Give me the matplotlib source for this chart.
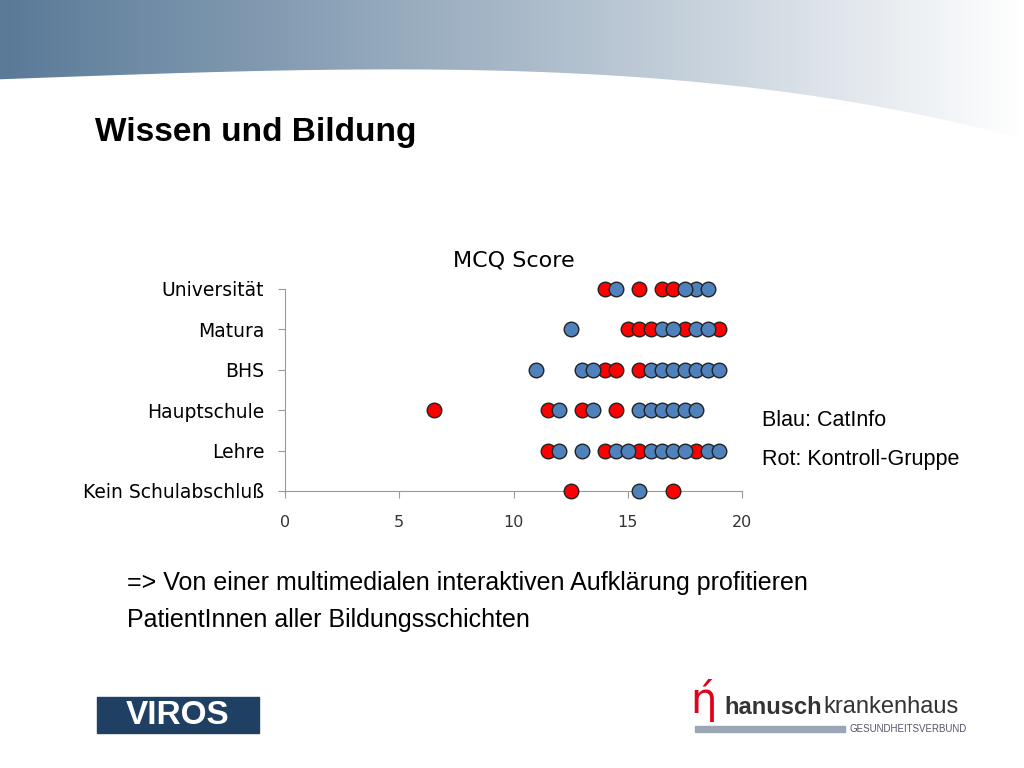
import matplotlib
matplotlib.use("Agg")
import matplotlib.pyplot as plt
import numpy as np
from matplotlib.colors import LinearSegmentedColormap

categories = ["Kein Schulabschluß", "Lehre", "Hauptschule", "BHS", "Matura", "Universität"]
blue_scores = {
    "Universität": [14.5, 18.0, 18.5, 17.5],
    "Matura": [12.5, 16.5, 17.0, 18.0, 18.5],
    "BHS": [11.0, 13.0, 13.5, 16.0, 16.5, 17.0, 17.5, 18.0, 18.5, 19.0],
    "Hauptschule": [12.0, 13.5, 15.5, 16.0, 16.5, 17.0, 17.5, 18.0],
    "Lehre": [12.0, 13.0, 14.5, 15.0, 16.0, 16.5, 17.0, 17.5, 18.5, 19.0],
    "Kein Schulabschluß": [15.5],
}
red_scores = {
    "Universität": [14.0, 15.5, 16.5, 17.0],
    "Matura": [15.0, 15.5, 16.0, 17.5, 19.0],
    "BHS": [14.0, 14.5, 15.5],
    "Hauptschule": [6.5, 11.5, 13.0, 14.5],
    "Lehre": [11.5, 14.0, 15.5, 18.0],
    "Kein Schulabschluß": [12.5, 17.0],
}
x_ticks = [0, 5, 10, 15, 20]

fig = plt.figure(figsize=(10.24, 7.68), dpi=100)
bg = fig.add_axes([0, 0, 1, 1]); bg.set_axis_off()
bg.set_xlim(0, 1024); bg.set_ylim(768, 0)
grad = np.linspace(0, 1, 256)[None, :]
cm = LinearSegmentedColormap.from_list("g", ["#5a7a98", "#a7b8c8", "#ffffff"])
bg.imshow(grad, extent=[0, 1024, 160, 0], cmap=cm, aspect="auto")
xs = np.linspace(0, 1024, 200)
ys = 80 - 12 * np.sin(np.pi * xs / 1024) + 60 * (xs / 1024) ** 4
bg.fill_between(xs, ys, 170, color="white")
F = "Liberation Sans"
bg.text(95, 133, "Wissen und Bildung", fontsize=24, fontweight="bold", va="center", family=F)
bg.text(762, 420, "Blau: CatInfo", fontsize=15.5, va="center", family=F)
bg.text(762, 459, "Rot: Kontroll-Gruppe", fontsize=15.5, va="center", family=F)
bg.text(127, 583, "=> Von einer multimedialen interaktiven Aufklärung profitieren", fontsize=18, va="center", family=F)
bg.text(127, 620, "PatientInnen aller Bildungsschichten", fontsize=18, va="center", family=F)
bg.add_patch(plt.Rectangle((97, 697), 162, 36, color="#1f3f63"))
bg.text(178, 715, "VIROS", fontsize=24, fontweight="bold", color="white", ha="center", va="center", family=F)
bg.text(724, 707, "hanusch", fontsize=17, fontweight="bold", color="#333333", va="center", family=F)
bg.text(823, 707, "krankenhaus", fontsize=17, color="#333333", va="center", family=F)
bg.text(690, 700, "ή", fontsize=30, color="#e3001b", va="center")
bg.add_patch(plt.Rectangle((695, 726), 150, 6, color="#9aa6b3"))
bg.text(850, 729, "GESUNDHEITSVERBUND", fontsize=7, color="#556", va="center", family=F)

ax = fig.add_axes([285/1024, 1-491/768, 457/1024, 202/768])
for i, c in enumerate(categories):
    ax.scatter(red_scores[c], [i]*len(red_scores[c]), s=110, color="#ff0000", edgecolor="#222222", linewidth=1, zorder=3, clip_on=False)
    ax.scatter(blue_scores[c], [i]*len(blue_scores[c]), s=110, color="#4f81bd", edgecolor="#222222", linewidth=1, zorder=3, clip_on=False)
ax.set_xlim(0, 20); ax.set_ylim(0, 5)
ax.set_xticks(x_ticks)
ax.set_yticks(range(len(categories)))
ax.set_yticklabels(categories, fontsize=13.5, family="DejaVu Sans")
ax.tick_params(axis="x", labelsize=11.5, colors="#333", length=5, color="#999", pad=12)
ax.tick_params(axis="y", length=5, color="#999", pad=10)
for s in ["top", "right"]:
    ax.spines[s].set_visible(False)
for s in ["left", "bottom"]:
    ax.spines[s].set_color("#999")
ax.set_title("MCQ Score", fontsize=16, pad=16)
fig.savefig("out.png", dpi=100)
